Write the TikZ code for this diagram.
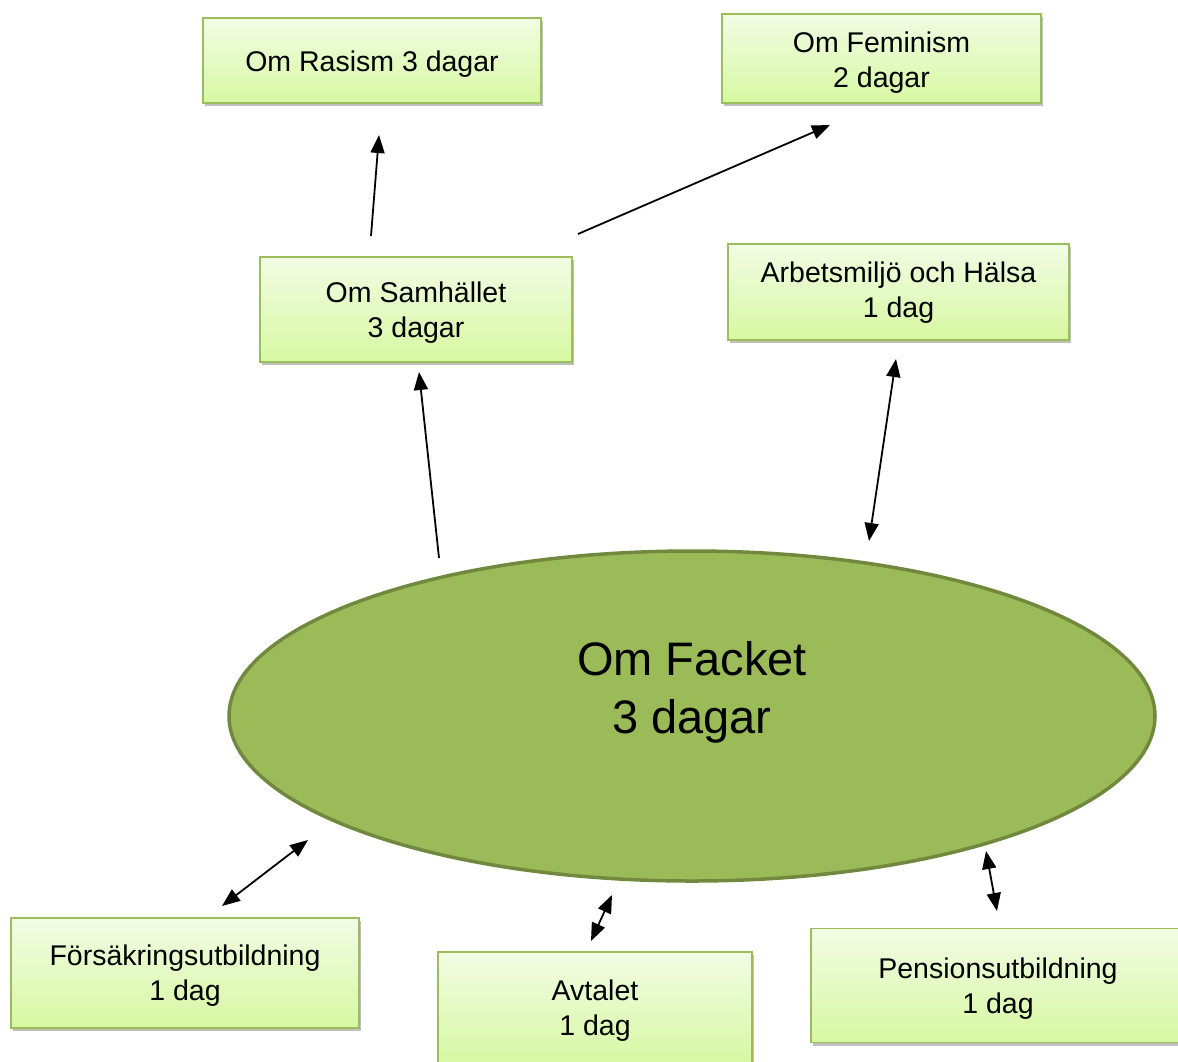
\documentclass[tikz,border=0pt]{standalone}
\usepackage{fontspec}
\setmainfont{Liberation Sans}
\usetikzlibrary{arrows.meta,shadows,shapes.geometric}
\definecolor{boxtop}{RGB}{242,252,228}
\definecolor{boxbot}{RGB}{214,248,162}
\definecolor{boxline}{RGB}{155,190,90}
\definecolor{ellfill}{RGB}{155,187,89}
\definecolor{ellline}{RGB}{113,137,63}
\tikzset{
  kurs/.style={rectangle, draw=boxline, line width=1.5pt, top color=boxtop, bottom color=boxbot,
    drop shadow={shadow xshift=1.5pt, shadow yshift=-3pt, opacity=0.25, fill=black},
    align=center, font=\fontsize{28.5}{35}\selectfont, inner sep=0pt},
  kurstext/.style={align=center, font=\fontsize{28.5}{35}\selectfont, inner sep=0pt},
  pil/.style={line width=1.8pt, -{Triangle[length=18pt,width=14pt]}},
  dubbel/.style={line width=1.8pt, {Triangle[length=18pt,width=14pt]}-{Triangle[length=18pt,width=14pt]}}
}
\begin{document}
\begin{tikzpicture}[x=1pt,y=-1pt]
\useasboundingbox (0,0) rectangle (1178,1061);
\node[ellipse, fill=ellfill, draw=ellline, line width=3.5pt, minimum width=926pt, minimum height=330pt] (facket) at (692,716) {};
\node[align=center, font=\fontsize{47}{58}\selectfont, inner sep=0pt] (fackettext) at (692,692) {Om Facket\\3 dagar};
\node[kurs, minimum width=338pt, minimum height=85pt] (rasism) at (372,60.5) {};
\node[kurstext] (rasismtext) at (372,64) {Om Rasism 3 dagar};
\node[kurs, minimum width=319pt, minimum height=89pt] (feminism) at (881.5,58.5) {};
\node[kurstext] (feminismtext) at (881.5,63) {Om Feminism\\2 dagar};
\node[kurs, minimum width=312pt, minimum height=105pt] (samhallet) at (416,309.5) {};
\node[kurstext] (samhallettext) at (416,313) {Om Samhället\\3 dagar};
\node[kurs, minimum width=341pt, minimum height=96pt] (arbets) at (898.5,292) {};
\node[kurstext] (arbetstext) at (898.5,293) {Arbetsmiljö och Hälsa\\1 dag};
\node[kurs, minimum width=348pt, minimum height=110pt] (forsakring) at (185,973) {};
\node[kurstext] (forsakringtext) at (185,976) {Försäkringsutbildning\\1 dag};
\node[kurs, minimum width=314pt, minimum height=112pt] (avtalet) at (595,1008) {};
\node[kurstext] (avtalettext) at (595,1011) {Avtalet\\1 dag};
\node[kurs, minimum width=374pt, minimum height=114pt] (pension) at (998,985.5) {};
\node[kurstext] (pensiontext) at (998,989) {Pensionsutbildning\\1 dag};
% connector end points
\coordinate (s1) at (371,236); \coordinate (r1) at (379,135);
\coordinate (s2) at (578,234); \coordinate (f1) at (830,125);
\coordinate (k1) at (439,558); \coordinate (s3) at (419,372);
\coordinate (k2) at (869,541); \coordinate (a1) at (896,359);
\coordinate (fo1) at (222,906); \coordinate (k3) at (308,840);
\coordinate (av1) at (591,941); \coordinate (k4) at (612,895);
\coordinate (p1) at (997,911); \coordinate (k5) at (986,851);
\draw[pil] (s1) -- (r1);
\draw[pil] (s2) -- (f1);
\draw[pil] (k1) -- (s3);
\draw[dubbel] (k2) -- (a1);
\draw[dubbel] (fo1) -- (k3);
\draw[dubbel] (av1) -- (k4);
\draw[dubbel] (p1) -- (k5);
\end{tikzpicture}
\end{document}
